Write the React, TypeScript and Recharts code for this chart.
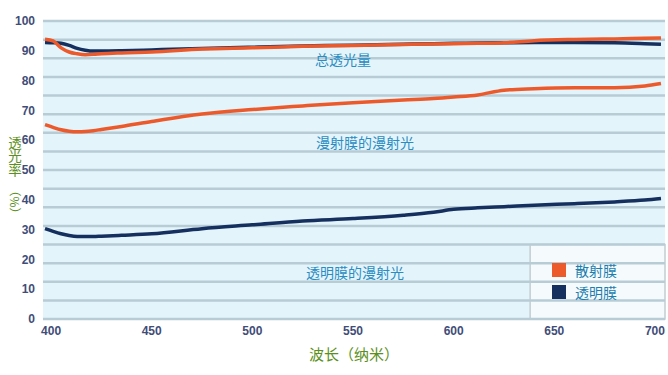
import {
  Line,
  LineChart,
  ReferenceArea,
  ReferenceDot,
  ReferenceLine,
  XAxis,
  YAxis,
} from "recharts";

const wavelength = [397, 401, 405, 409, 413, 417, 421, 425, 435, 450, 475, 500, 525, 550, 575, 590, 600, 612, 625, 640, 660, 680, 695, 703];

// 散射膜 total transmission
const scatterTotal = [93.9, 93.3, 91.0, 89.6, 89.0, 88.7, 88.8, 89.0, 89.3, 89.6, 90.6, 91.0, 91.5, 91.8, 92.1, 92.3, 92.4, 92.5, 92.7, 93.4, 93.8, 94.0, 94.2, 94.3];
// 透明膜 total transmission
const clearTotal = [92.8, 92.7, 92.5, 91.8, 90.8, 90.2, 89.9, 89.9, 90.0, 90.3, 90.8, 91.2, 91.6, 91.9, 92.2, 92.4, 92.5, 92.6, 92.7, 92.8, 92.8, 92.7, 92.4, 92.2];
// 漫射膜的漫射光
const scatterDiffuse = [65.2, 64.3, 63.5, 63.0, 62.8, 62.9, 63.2, 63.6, 64.6, 66.3, 68.8, 70.3, 71.5, 72.6, 73.5, 74.0, 74.5, 75.2, 76.8, 77.3, 77.6, 77.6, 78.2, 79.0];
// 透明膜的漫射光
const clearDiffuse = [30.3, 29.4, 28.6, 28.0, 27.7, 27.7, 27.7, 27.8, 28.1, 28.6, 30.3, 31.6, 32.9, 33.7, 34.8, 35.8, 36.8, 37.3, 37.7, 38.2, 38.7, 39.3, 39.9, 40.4];

const xTicks = [400, 450, 500, 550, 600, 650, 700];
const yTicks = [0, 10, 20, 30, 40, 50, 60, 70, 80, 90, 100];
const gridLevels = [0, 6.25, 12.5, 18.75, 25, 31.25, 37.5, 43.75, 50, 56.25, 62.5, 68.75, 75, 81.25, 87.5, 93.75, 100];

const notes = [
  { x: 545, y: 87, text: "总透光量" },
  { x: 556, y: 59, text: "漫射膜的漫射光" },
  { x: 551, y: 15.4, text: "透明膜的漫射光" },
];

const legendItems = [
  { name: "散射膜", color: "#ec5a2b" },
  { name: "透明膜", color: "#15305f" },
];

const data = wavelength.map((w, i) => ({
  w,
  scatterTotal: scatterTotal[i],
  clearTotal: clearTotal[i],
  scatterDiffuse: scatterDiffuse[i],
  clearDiffuse: clearDiffuse[i],
}));

const ORANGE = "#ec5a2b";
const NAVY = "#15305f";
const GREEN = "#5b9020";
const CJK = '"Noto Sans CJK SC", sans-serif';
const tickStyle = {
  fill: "#3f4d78",
  fontSize: 12,
  fontWeight: 600,
  fontFamily: '"Liberation Sans", Arial, sans-serif',
};

export default function App() {
  return (
    <div style={{ position: "absolute", left: 0, top: 0, width: 668, height: 375, background: "#fff" }}>
      <LineChart
        width={668}
        height={375}
        data={data}
        margin={{ top: 21, right: 3, bottom: 0, left: 0 }}
      >
        <ReferenceArea x1={396} x2={705} y1={0} y2={100} fill="#e3f4fb" fillOpacity={1} stroke="none" />
        {gridLevels.map((g) => (
          <ReferenceLine key={g} y={g} stroke="#b8ccd6" strokeWidth={2.5} />
        ))}
        <ReferenceArea x1={638} x2={705} y1={0} y2={25} fill="#f6fbfd" fillOpacity={0.93} stroke="#c3cdd2" strokeWidth={1.5} />
        <XAxis
          dataKey="w"
          type="number"
          domain={[396, 705]}
          ticks={xTicks}
          axisLine={false}
          tickLine={false}
          tickMargin={1}
          tick={tickStyle}
          height={56}
          label={{ value: "波长（纳米）", position: "insideBottom", offset: 15, fill: GREEN, fontSize: 15, fontFamily: CJK }}
        />
        <YAxis
          type="number"
          domain={[0, 100]}
          ticks={yTicks}
          axisLine={false}
          tickLine={false}
          tickMargin={2}
          tick={tickStyle}
          width={43}
        />
        {notes.map((n) => (
          <ReferenceDot
            key={n.text}
            x={n.x}
            y={n.y}
            r={0}
            fill="none"
            stroke="none"
            label={{ value: n.text, position: "center", fill: "#2a8cc2", fontSize: 14, fontFamily: CJK }}
          />
        ))}
        <Line type="monotone" dataKey="clearTotal" stroke={NAVY} strokeWidth={3.5} dot={false} isAnimationActive={false} />
        <Line type="monotone" dataKey="scatterTotal" stroke={ORANGE} strokeWidth={3.5} dot={false} isAnimationActive={false} />
        <Line type="monotone" dataKey="scatterDiffuse" stroke={ORANGE} strokeWidth={3.5} dot={false} isAnimationActive={false} />
        <Line type="monotone" dataKey="clearDiffuse" stroke={NAVY} strokeWidth={3.5} dot={false} isAnimationActive={false} />
      </LineChart>
      <div style={{ position: "absolute", left: 552, top: 259, fontFamily: CJK }}>
        {legendItems.map((it) => (
          <div key={it.name} style={{ display: "flex", alignItems: "center", height: 22 }}>
            <span style={{ width: 14, height: 14, background: it.color, display: "inline-block" }} />
            <span style={{ marginLeft: 9, fontSize: 14, color: "#1d7eae", lineHeight: "16px" }}>{it.name}</span>
          </div>
        ))}
      </div>
      <svg
        width={24}
        height={90}
        style={{ position: "absolute", left: 3, top: 132 }}
        fontFamily={CJK}
        fill={GREEN}
      >
        <text x={12} y={4} fontSize={13.5} style={{ writingMode: "vertical-rl" }}>
          透光率
        </text>
        <text x={0} y={0} fontSize={12} textAnchor="middle" dominantBaseline="central" transform="translate(12 70) rotate(90)">
          （%）
        </text>
      </svg>
    </div>
  );
}
